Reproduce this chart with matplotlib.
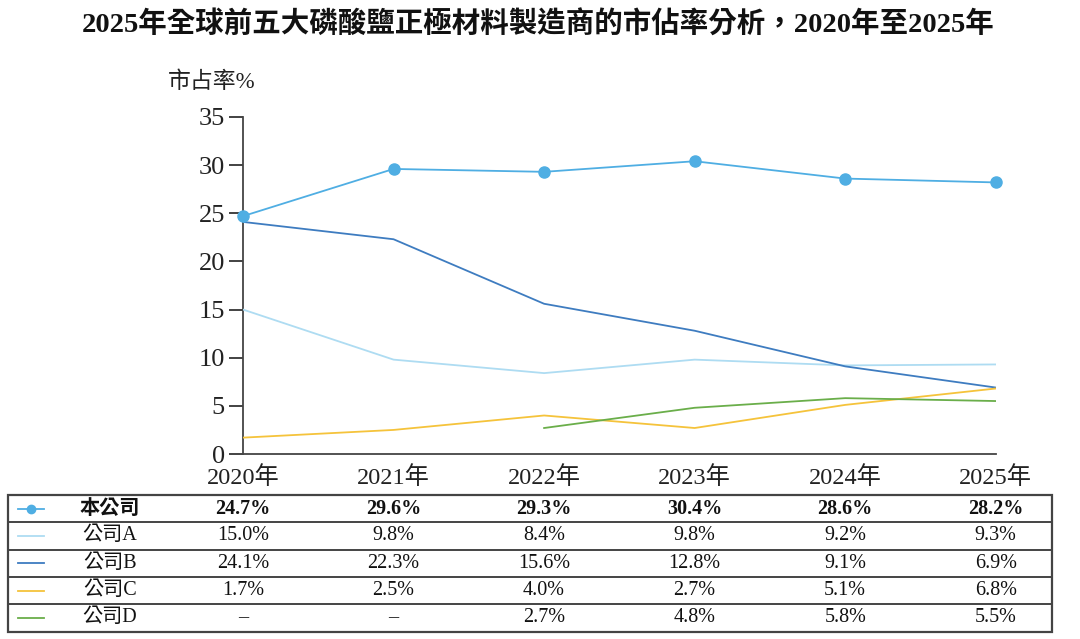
import matplotlib
matplotlib.use("Agg")
import matplotlib.pyplot as plt
import matplotlib.transforms as mtransforms
from matplotlib.lines import Line2D
from matplotlib.patches import Rectangle
import numpy as np

plt.rcParams['font.family'] = ['Liberation Serif', 'Noto Sans CJK TC', 'DejaVu Sans']

# data
years = [2020, 2021, 2022, 2023, 2024, 2025]
year_labels = ["2020年", "2021年", "2022年", "2023年", "2024年", "2025年"]
names = ["本公司", "公司A", "公司B", "公司C", "公司D"]
ours = [24.7, 29.6, 29.3, 30.4, 28.6, 28.2]
comp_a = [15.0, 9.8, 8.4, 9.8, 9.2, 9.3]
comp_b = [24.1, 22.3, 15.6, 12.8, 9.1, 6.9]
comp_c = [1.7, 2.5, 4.0, 2.7, 5.1, 6.8]
comp_d = [None, None, 2.7, 4.8, 5.8, 5.5]
colors = ["#4FAEE3", "#AEDCF2", "#3E7CC0", "#F5C33B", "#6AAE4A"]

series = [ours, comp_a, comp_b, comp_c, comp_d]

fig = plt.figure(figsize=(10.8, 6.39), dpi=100)
ax = fig.add_axes([0.225, 0.2895, 0.697, 0.5275])

for i, (vals, c) in enumerate(zip(series, colors)):
    y = np.array([np.nan if v is None else v for v in vals])
    if i == 0:
        ax.plot(years, y, color=c, lw=1.3, marker="o", ms=8, zorder=5, clip_on=False)
    else:
        ax.plot(years, y, color=c, lw=1.3, zorder=3)

ax.set_xlim(2020, 2025)
ax.set_ylim(0, 35)
ax.set_yticks(range(0, 36, 5))
ax.set_xticks(years)
ax.set_xticklabels(year_labels)
ax.tick_params(axis="x", length=0, labelsize=17.5, pad=9, colors="#222222")
ax.tick_params(axis="y", length=10, width=1.2, labelsize=19, pad=3, colors="#222222")
for s in ["top", "right"]:
    ax.spines[s].set_visible(False)
for s in ["left", "bottom"]:
    ax.spines[s].set_color("#444444")
    ax.spines[s].set_linewidth(1.3)

fig.text(0.498, 0.962, "2025年全球前五大磷酸鹽正極材料製造商的市佔率分析，2020年至2025年",
         ha="center", va="center", fontsize=20.5, fontweight="bold", color="#111111")
fig.text(0.155, 0.872, "市占率%", ha="left", va="center", fontsize=16.5, color="#222222")

# table under the chart
tr = mtransforms.blended_transform_factory(ax.transData, fig.transFigure)
top_px, row_h = 495, 27.3
W, H = 1080, 639
box = Rectangle((8 / W, 1 - (top_px + 5 * row_h) / H), 1044 / W, 5 * row_h / H,
                transform=fig.transFigure, fill=False, ec="#444444", lw=1.6)
fig.add_artist(box)
for r in range(1, 5):
    yy = 1 - (top_px + r * row_h) / H
    fig.add_artist(Line2D([8 / W, 1052 / W], [yy, yy], transform=fig.transFigure,
                          color="#444444", lw=1.4))

for r, (name, vals, c) in enumerate(zip(names, series, colors)):
    yc = 1 - (top_px + (r + 0.5) * row_h) / H
    fig.add_artist(Line2D([18 / W, 44 / W], [yc, yc], transform=fig.transFigure,
                          color=c, lw=1.3))
    if r == 0:
        fig.add_artist(Line2D([31 / W], [yc], transform=fig.transFigure,
                              color=c, marker="o", ms=6))
    bold = "bold" if r == 0 else "normal"
    fig.text(110 / W, yc, name, ha="center", va="center", fontsize=14.5,
             fontweight=bold, color="#111111")
    for yr, v in zip(years, vals):
        label = "–" if v is None else f"{v:.1f}%"
        ax.text(yr, yc, label, transform=tr, ha="center", va="center",
                fontsize=14.5, fontweight=bold, color="#111111")

fig.savefig("out.png", dpi=100)
